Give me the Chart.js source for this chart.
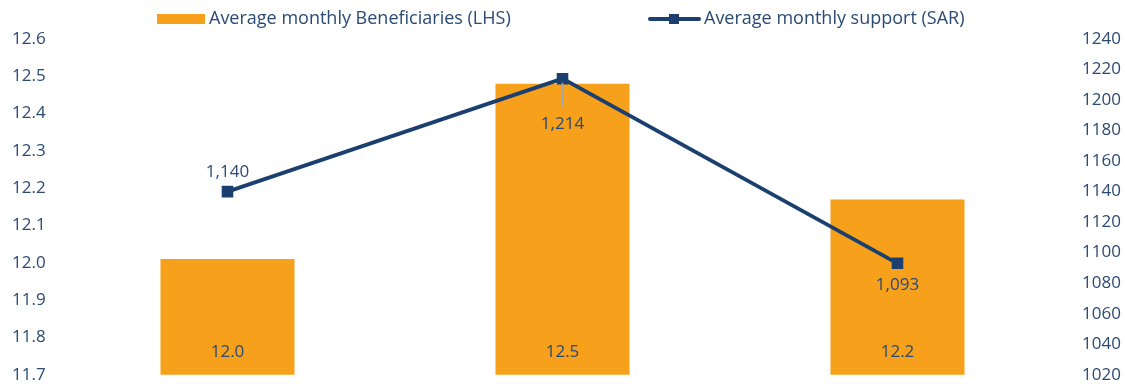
<!DOCTYPE html>
<html><head><meta charset="utf-8">
<script src="https://cdn.jsdelivr.net/npm/chart.js@4"></script>
<style>html,body{margin:0;padding:0;background:#fff}#w{width:1125px;height:384px}</style>
</head><body><div id="w"><canvas id="c"></canvas></div>
<script>
const categories = ['2020', '2021', '2022'];
const beneficiaries = [12.01, 12.48, 12.17];
const support = [1140, 1214, 1093];
const beneficiaryLabels = ['12.0', '12.5', '12.2'];
const supportLabels = ['1,140', '1,214', '1,093'];
const seriesNames = ['Average monthly Beneficiaries (LHS)', 'Average monthly support (SAR)'];

const FONT = "'Open Sans', sans-serif";
const TEXT = '#2a4a75';
const ORANGE = '#f6a01b';
const NAVY = '#1b3f6e';

const labelPlugin = {
  id: 'labels',
  afterDatasetsDraw(chart) {
    const ctx = chart.ctx;
    ctx.save();
    ctx.font = '17px ' + FONT;
    ctx.fillStyle = TEXT;
    ctx.textAlign = 'center';
    ctx.textBaseline = 'middle';
    const barMeta = chart.getDatasetMeta(1);
    const yL = chart.scales.yL;
    barMeta.data.forEach((el, i) => {
      ctx.fillText(beneficiaryLabels[i], el.x, yL.bottom - 23);
    });
    const lineMeta = chart.getDatasetMeta(0);
    const offs = [-19, 45, 22];
    lineMeta.data.forEach((el, i) => {
      if (i === 1) {
        ctx.strokeStyle = '#a6a6a6';
        ctx.lineWidth = 1.5;
        ctx.beginPath();
        ctx.moveTo(el.x, el.y + 4);
        ctx.lineTo(el.x, el.y + 28);
        ctx.stroke();
      }
      ctx.fillText(supportLabels[i], el.x, el.y + offs[i]);
    });
    ctx.restore();
  },
  afterDraw(chart) {
    const ctx = chart.ctx;
    ctx.save();
    ctx.font = '18px ' + FONT;
    ctx.textBaseline = 'middle';
    ctx.textAlign = 'left';
    const y = 19;
    ctx.fillStyle = ORANGE;
    ctx.fillRect(157, 14, 48, 10);
    ctx.fillStyle = TEXT;
    ctx.fillText(seriesNames[0], 209, y);
    ctx.strokeStyle = NAVY;
    ctx.lineWidth = 4;
    ctx.lineCap = 'round';
    ctx.beginPath();
    ctx.moveTo(650, y); ctx.lineTo(699, y); ctx.stroke();
    ctx.fillStyle = NAVY;
    ctx.fillRect(669, y - 5, 10, 10);
    ctx.fillStyle = TEXT;
    ctx.fillText(seriesNames[1], 704, y);
    ctx.restore();
  }
};

new Chart(document.getElementById('c'), {
  type: 'bar',
  data: {
    labels: categories,
    datasets: [
      {
        type: 'line', label: seriesNames[1], data: support, yAxisID: 'yR',
        borderColor: NAVY, backgroundColor: NAVY, borderWidth: 3.8,
        pointStyle: 'rect', pointRadius: 5.5, pointHoverRadius: 5.5, tension: 0, order: 0
      },
      {
        type: 'bar', label: seriesNames[0], data: beneficiaries, yAxisID: 'yL',
        backgroundColor: ORANGE, barPercentage: 0.4, categoryPercentage: 1.0, order: 1
      }
    ]
  },
  plugins: [labelPlugin],
  options: {
    responsive: true, maintainAspectRatio: false, animation: false,
    layout: { padding: { top: 39, bottom: 0, left: 12, right: 4 } },
    plugins: { legend: { display: false }, tooltip: { enabled: false } },
    scales: {
      x: { display: false, grid: { display: false } },
      yL: {
        position: 'left', min: 11.7, max: 12.6,
        grid: { display: false, drawTicks: false }, border: { display: false },
        afterFit: s => { s.width = 48; },
        ticks: { stepSize: 0.1, color: TEXT, font: { family: FONT, size: 17, lineHeight: 1 }, padding: 0,
          crossAlign: 'far', callback: v => Number(v).toFixed(1) }
      },
      yR: {
        position: 'right', min: 1020, max: 1240,
        grid: { display: false, drawTicks: false }, border: { display: false },
        afterFit: s => { s.width = 56; },
        ticks: { stepSize: 20, color: TEXT, font: { family: FONT, size: 17, lineHeight: 1 }, padding: 0,
          crossAlign: 'far', callback: v => String(Math.round(v)) }
      }
    }
  }
});
</script></body></html>
